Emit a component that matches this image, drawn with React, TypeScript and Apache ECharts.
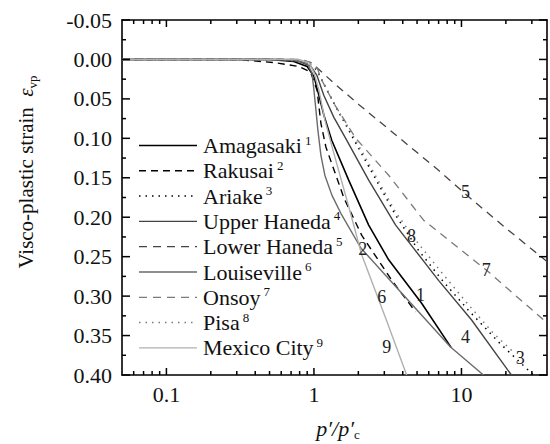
import React, { useEffect, useRef } from 'react';
import * as echarts from 'echarts';

const FONT = 'serif';

// axes
const xMin = 0.05;
const xMax = 38;
const yMin = -0.05;
const yMax = 0.4;
const yInterval = 0.05;
const xMajorTicks = [0.1, 1, 10];
const xMinorTicks = [0.06, 0.07, 0.08, 0.09, 0.2, 0.3, 0.4, 0.5, 0.6, 0.7, 0.8, 0.9, 2, 3, 4, 5, 6, 7, 8, 9, 20, 30];
const yMajorTicks = [-0.05, 0, 0.05, 0.1, 0.15, 0.2, 0.25, 0.3, 0.35, 0.4];
const yMinorTicks = [-0.025, 0.025, 0.075, 0.125, 0.175, 0.225, 0.275, 0.325, 0.375];

// series
const seriesNames = ['Amagasaki', 'Rakusai', 'Ariake', 'Upper Haneda', 'Lower Haneda', 'Louiseville', 'Onsoy', 'Pisa', 'Mexico City'];
const seriesNumbers = ['1', '2', '3', '4', '5', '6', '7', '8', '9'];

const amagasaki = [[0.05, 0], [0.5, 0], [0.73, 0.0025], [0.9, 0.009], [1.0, 0.0215], [1.08, 0.0456], [1.17, 0.071], [1.32, 0.1025], [1.72, 0.153], [2.35, 0.21], [3.21, 0.254], [5.37, 0.309], [8.5, 0.365]];
const rakusai = [[0.05, 0], [0.3, 0], [0.54, 0.004], [0.79, 0.009], [0.95, 0.016], [1.05, 0.039], [1.115, 0.081], [1.205, 0.111], [1.6, 0.176], [2.11, 0.223], [3.37, 0.28], [4.89, 0.32]];
const ariake = [[0.05, 0], [0.6, 0], [0.85, 0.003], [0.97, 0.008], [1.048, 0.0139], [1.224, 0.039], [1.475, 0.067], [1.724, 0.09], [2.43, 0.1405], [3.58, 0.1975], [5.12, 0.242], [7.56, 0.282], [11.15, 0.318], [17.8, 0.358], [30.7, 0.4]];
const upperHaneda = [[0.05, 0], [0.6, 0], [0.79, 0.0025], [0.954, 0.0089], [1.048, 0.0203], [1.168, 0.0456], [1.365, 0.0734], [1.67, 0.1025], [2.35, 0.153], [3.58, 0.21], [6.99, 0.28], [11.68, 0.33], [21.8, 0.4]];
const lowerHaneda = [[0.05, 0], [0.68, 0], [0.856, 0.0013], [0.969, 0.005], [1.081, 0.0127], [1.365, 0.03], [2.01, 0.057], [3.75, 0.0987], [6.99, 0.1405], [11.5, 0.176], [20.8, 0.2165], [38, 0.256]];
const louiseville = [[0.05, 0], [0.73, 0], [0.897, 0.005], [0.969, 0.0165], [1.0, 0.039], [1.032, 0.0646], [1.064, 0.09], [1.115, 0.1215], [1.187, 0.147], [1.323, 0.172], [1.522, 0.195], [2.08, 0.239], [3.75, 0.292], [8.43, 0.3646], [14.08, 0.4]];
const onsoy = [[0.05, 0], [0.79, 0], [0.954, 0.0038], [1.048, 0.0101], [1.133, 0.0266], [1.365, 0.0557], [1.922, 0.1], [3.21, 0.1468], [5.54, 0.2038], [14.75, 0.267], [38, 0.334]];
const pisa = [[0.05, 0], [0.6, 0], [0.85, 0.003], [0.96, 0.007], [1.032, 0.0114], [1.187, 0.033], [1.43, 0.062], [1.724, 0.0873], [2.43, 0.1367], [3.58, 0.1937], [4.89, 0.229], [7.56, 0.273], [11.15, 0.311], [16.45, 0.347], [22.5, 0.371]];
const mexicoCity = [[0.05, 0], [0.79, 0], [0.925, 0.004], [1.0, 0.0165], [1.081, 0.039], [1.187, 0.077], [1.365, 0.119], [1.724, 0.187], [2.11, 0.248], [3.065, 0.328], [4.25, 0.4]];

const seriesData = [amagasaki, rakusai, ariake, upperHaneda, lowerHaneda, louiseville, onsoy, pisa, mexicoCity];

// curve number annotations [x, y, text]
const curveLabels: [number, number, string][] = [
  [5.28, 0.299, '1'],
  [2.14, 0.2405, '2'],
  [25.0, 0.378, '3'],
  [10.64, 0.352, '4'],
  [10.64, 0.168, '5'],
  [2.88, 0.301, '6'],
  [14.75, 0.267, '7'],
  [4.59, 0.224, '8'],
  [3.11, 0.3646, '9'],
];

const lineStyles = [
  { color: '#000', type: 'solid', width: 1.6 },
  { color: '#000', type: [7, 5], width: 1.4 },
  { color: '#000', type: [1.5, 5], width: 1.5 },
  { color: '#444', type: 'solid', width: 1.4 },
  { color: '#444', type: [8, 6], width: 1.3 },
  { color: '#6a6a6a', type: 'solid', width: 1.4 },
  { color: '#7a7a7a', type: [8, 6], width: 1.3 },
  { color: '#7a7a7a', type: [1.5, 5], width: 1.5 },
  { color: '#b0b0b0', type: 'solid', width: 1.4 },
];

const font = (size: number, italic = false) => `${italic ? 'italic ' : ''}${size}px ${FONT}`;

function tickSeries(values: number[], isX: boolean, len: number) {
  return {
    type: 'custom',
    coordinateSystem: 'cartesian2d',
    xAxisIndex: 0,
    yAxisIndex: 0,
    data: values.map((v) => (isX ? [v, 0] : [1, v])),
    clip: false,
    silent: true,
    z: 6,
    renderItem: (params: any, api: any) => {
      const st = { stroke: '#000', lineWidth: 1.5 };
      if (isX) {
        const v = api.value(0);
        const b = api.coord([v, yMax]);
        const t = api.coord([v, yMin]);
        return {
          type: 'group',
          children: [
            { type: 'line', shape: { x1: b[0], y1: b[1], x2: b[0], y2: b[1] - len }, style: st },
            { type: 'line', shape: { x1: t[0], y1: t[1], x2: t[0], y2: t[1] + len }, style: st },
          ],
        };
      }
      const v = api.value(1);
      const l = api.coord([xMin, v]);
      const r = api.coord([xMax, v]);
      return {
        type: 'group',
        children: [
          { type: 'line', shape: { x1: l[0], y1: l[1], x2: l[0] + len, y2: l[1] }, style: st },
          { type: 'line', shape: { x1: r[0], y1: r[1], x2: r[0] - len, y2: r[1] }, style: st },
        ],
      };
    },
  };
}

export default function App() {
  const ref = useRef<HTMLDivElement>(null);

  useEffect(() => {
    if (!ref.current) return;
    const chart = echarts.init(ref.current, null, { renderer: 'svg' });

    const legendX1 = 139;
    const legendX2 = 197;
    const legendTextX = 203;
    const legendY0 = 145.5;
    const legendStep = 25.3;

    const legendGraphics: any[] = [];
    seriesNames.forEach((name, i) => {
      const y = legendY0 + i * legendStep;
      const st = lineStyles[i];
      legendGraphics.push({
        type: 'line',
        shape: { x1: legendX1, y1: y, x2: legendX2, y2: y },
        style: {
          stroke: st.color,
          lineWidth: st.width,
          lineDash: Array.isArray(st.type) ? st.type : null,
        },
        silent: true,
      });
      legendGraphics.push({
        type: 'text',
        x: legendTextX,
        y: y,
        style: {
          text: `{a|${name}}{s|${seriesNumbers[i]}}`,
          verticalAlign: 'middle',
          align: 'left',
          font: font(22),
          rich: {
            a: { font: font(22), fontSize: 22, fontFamily: FONT, fill: '#111', lineHeight: 24 },
            s: { font: font(13), fontSize: 13, fontFamily: FONT, fill: '#111', lineHeight: 13, verticalAlign: 'top', padding: [0, 0, 0, 3] },
          },
        },
        silent: true,
      });
    });

    const axisLineStyle = { color: '#000', width: 1.6 };

    const option: any = {
      animation: false,
      backgroundColor: '#fff',
      textStyle: { fontFamily: FONT },
      grid: { left: 122, right: 1, top: 20, bottom: 69, containLabel: false },
      xAxis: [
        {
          type: 'log',
          logBase: 10,
          min: xMin,
          max: xMax,
          position: 'bottom',
          axisLine: { show: true, onZero: false, lineStyle: axisLineStyle },
          axisTick: { show: false },
          axisLabel: {
            show: true,
            margin: 8,
            fontSize: 22,
            fontFamily: FONT,
            color: '#111',
            formatter: (v: number) => {
              const m = xMajorTicks.find((t) => Math.abs(t - v) / t < 1e-6);
              return m !== undefined ? String(m) : '';
            },
          },
          splitLine: { show: false },
        },
        {
          type: 'log',
          logBase: 10,
          min: xMin,
          max: xMax,
          position: 'top',
          axisLine: { show: true, onZero: false, lineStyle: axisLineStyle },
          axisTick: { show: false },
          axisLabel: { show: false },
          splitLine: { show: false },
        },
      ],
      yAxis: [
        {
          type: 'value',
          inverse: true,
          min: yMin,
          max: yMax,
          interval: yInterval,
          position: 'left',
          axisLine: { show: true, onZero: false, lineStyle: axisLineStyle },
          axisTick: { show: false },
          axisLabel: {
            margin: 10,
            fontSize: 22,
            fontFamily: FONT,
            color: '#111',
            formatter: (v: number) => v.toFixed(2),
          },
          splitLine: { show: false },
        },
        {
          type: 'value',
          inverse: true,
          min: yMin,
          max: yMax,
          interval: yInterval,
          position: 'right',
          axisLine: { show: true, onZero: false, lineStyle: axisLineStyle },
          axisTick: { show: false },
          axisLabel: { show: false },
          splitLine: { show: false },
        },
      ],
      graphic: [
        ...legendGraphics,
        {
          type: 'text',
          x: 26,
          y: 172,
          rotation: Math.PI / 2,
          style: {
            text: '{n|Visco-plastic strain  }{e|ε}{sub|vp}',
            align: 'center',
            verticalAlign: 'middle',
            font: font(21),
            rich: {
              n: { font: font(21), fontSize: 21, fontFamily: FONT, fill: '#111', lineHeight: 26 },
              e: { font: font(21, true), fontSize: 21, fontFamily: FONT, fontStyle: 'italic', fill: '#111', lineHeight: 26 },
              sub: { font: font(13), fontSize: 13, fontFamily: FONT, fill: '#111', lineHeight: 13, verticalAlign: 'bottom' },
            },
          },
          silent: true,
        },
        {
          type: 'text',
          x: 338,
          y: 428,
          style: {
            text: '{i|p′/p′}{sub|c}',
            align: 'center',
            verticalAlign: 'middle',
            font: font(22, true),
            rich: {
              i: { font: font(22, true), fontSize: 22, fontFamily: FONT, fontStyle: 'italic', fill: '#111', lineHeight: 26 },
              sub: { font: font(13), fontSize: 13, fontFamily: FONT, fill: '#111', lineHeight: 13, verticalAlign: 'bottom' },
            },
          },
          silent: true,
        },
      ],
      series: [
        ...seriesData.map((d, i) => ({
          name: seriesNames[i],
          type: 'line',
          data: d,
          xAxisIndex: 0,
          yAxisIndex: 0,
          showSymbol: false,
          symbol: 'none',
          smooth: false,
          lineStyle: { color: lineStyles[i].color, type: lineStyles[i].type, width: lineStyles[i].width },
          z: 3,
          silent: true,
        })),
        tickSeries(xMajorTicks, true, 7),
        tickSeries(xMinorTicks, true, 4),
        tickSeries(yMajorTicks, false, 8),
        tickSeries(yMinorTicks, false, 4),
        {
          type: 'scatter',
          name: 'curveNumbers',
          xAxisIndex: 0,
          yAxisIndex: 0,
          symbol: 'circle',
          symbolSize: 1,
          itemStyle: { color: 'rgba(0,0,0,0)' },
          silent: true,
          z: 7,
          data: curveLabels.map((c) => ({ value: [c[0], c[1]], name: c[2] })),
          label: {
            show: true,
            position: 'inside',
            formatter: '{b}',
            fontSize: 18,
            fontFamily: FONT,
            color: '#222',
            opacity: 1,
          },
        },
      ],
    };

    chart.setOption(option);
    return () => {
      chart.dispose();
    };
  }, []);

  return (
    <div
      ref={ref}
      style={{ position: 'absolute', left: 0, top: 0, width: 550, height: 444, background: '#fff' }}
    />
  );
}
